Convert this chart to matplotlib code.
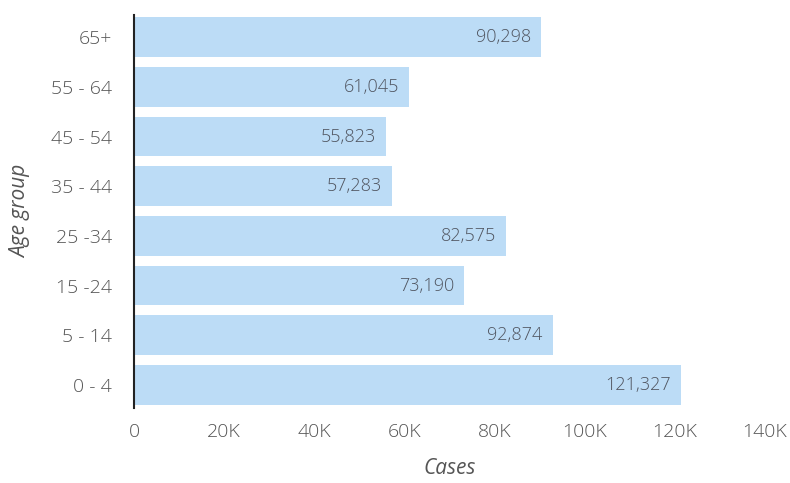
import matplotlib.pyplot as plt
from matplotlib.ticker import FuncFormatter

groups = ["0 - 4", "5 - 14", "15 -24", "25 -34", "35 - 44", "45 - 54", "55 - 64", "65+"]
cases = [121327, 92874, 73190, 82575, 57283, 55823, 61045, 90298]
xticks = [0, 20000, 40000, 60000, 80000, 100000, 120000, 140000]

plt.rcParams["font.family"] = ["Open Sans", "DejaVu Sans"]
plt.rcParams["font.weight"] = "light"

fig = plt.figure(figsize=(7.9, 4.83), dpi=100)
ax = fig.add_axes([0.1696, 0.155, 0.7987, 0.814])

ypos = range(len(groups))
ax.barh(ypos, cases, height=0.8, color="#bcdcf6")

for y, v in zip(ypos, cases):
    ax.annotate(f"{v:,}", xy=(v, y), xytext=(-7, 0), textcoords="offset points",
                ha="right", va="center", fontsize=13, color="#505560")

ax.set_yticks(list(ypos))
ax.set_yticklabels(groups)
ax.set_xticks(xticks)
ax.xaxis.set_major_formatter(FuncFormatter(lambda x, p: "0" if x == 0 else f"{int(x/1000)}K"))
ax.set_xlim(0, 140000)
ax.set_ylim(-0.47, 7.45)

for s in ["top", "right", "bottom"]:
    ax.spines[s].set_visible(False)
ax.spines["left"].set_color("#222222")
ax.spines["left"].set_linewidth(1.5)
ax.tick_params(axis="both", length=0, labelsize=14, labelcolor="#555555")
ax.tick_params(axis="x", pad=11)
ax.tick_params(axis="y", pad=16)

ax.set_xlabel("Cases", fontsize=15, color="#555555", style="italic", labelpad=12)
ax.set_ylabel("Age group", fontsize=15, color="#555555", style="italic", labelpad=14)

fig.savefig("out.png", dpi=100)
